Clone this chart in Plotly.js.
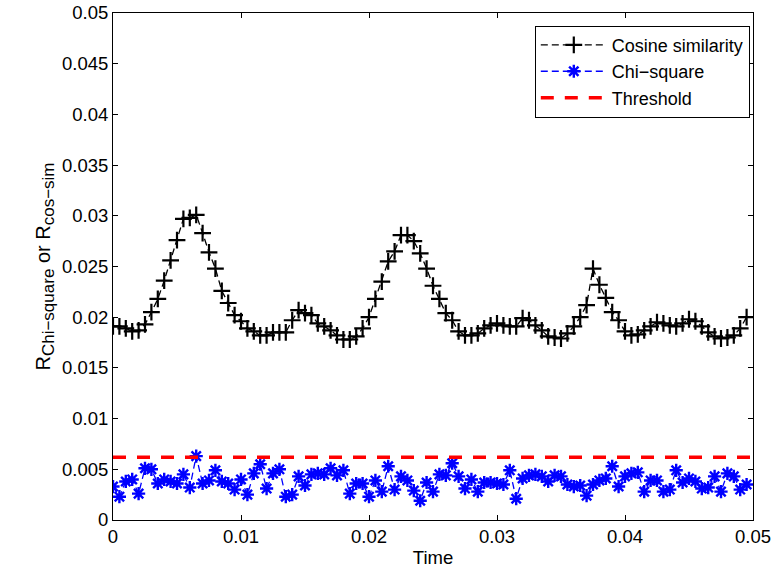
<!DOCTYPE html>
<html>
<head>
<meta charset="utf-8">
<script src="https://cdn.plot.ly/plotly-3.0.1.min.js"></script>
<style>html,body{margin:0;padding:0;background:#fff}#chart{width:782px;height:571px}</style>
</head>
<body>
<div id="chart"></div>
<script>
var time = [0.0000,0.0005,0.0010,0.0015,0.0020,0.0025,0.0030,0.0035,0.0040,0.0045,
0.0050,0.0055,0.0060,0.0065,0.0070,0.0075,0.0080,0.0085,0.0090,0.0095,
0.0100,0.0105,0.0110,0.0115,0.0120,0.0125,0.0130,0.0135,0.0140,0.0145,
0.0150,0.0155,0.0160,0.0165,0.0170,0.0175,0.0180,0.0185,0.0190,0.0195,
0.0200,0.0205,0.0210,0.0215,0.0220,0.0225,0.0230,0.0235,0.0240,0.0245,
0.0250,0.0255,0.0260,0.0265,0.0270,0.0275,0.0280,0.0285,0.0290,0.0295,
0.0300,0.0305,0.0310,0.0315,0.0320,0.0325,0.0330,0.0335,0.0340,0.0345,
0.0350,0.0355,0.0360,0.0365,0.0370,0.0375,0.0380,0.0385,0.0390,0.0395,
0.0400,0.0405,0.0410,0.0415,0.0420,0.0425,0.0430,0.0435,0.0440,0.0445,
0.0450,0.0455,0.0460,0.0465,0.0470,0.0475,0.0480,0.0485,0.0490,0.0495];

var cosineSim = [0.0191,0.0191,0.0189,0.0186,0.0187,0.0193,0.0205,0.0218,0.0236,0.0256,
0.0276,0.0297,0.0298,0.0301,0.0283,0.0264,0.0248,0.0226,0.0214,0.0202,
0.0196,0.0189,0.0186,0.0182,0.0182,0.0185,0.0185,0.0185,0.0197,0.0207,
0.0204,0.0202,0.0194,0.0191,0.0187,0.0182,0.0178,0.0178,0.0181,0.0189,
0.0200,0.0218,0.0235,0.0255,0.0265,0.0281,0.0281,0.0275,0.0263,0.0248,
0.0231,0.0218,0.0204,0.0197,0.0186,0.0182,0.0182,0.0184,0.0189,0.0192,
0.0194,0.0192,0.0191,0.0191,0.0199,0.0197,0.0192,0.0187,0.0181,0.0180,
0.0179,0.0184,0.0191,0.0200,0.0212,0.0248,0.0232,0.0219,0.0205,0.0197,
0.0186,0.0182,0.0183,0.0187,0.0191,0.0195,0.0194,0.0192,0.0191,0.0194,
0.0198,0.0196,0.0191,0.0185,0.0181,0.0179,0.0180,0.0182,0.0189,0.0200];

var chiSquare = [0.0033,0.0023,0.0038,0.0040,0.0026,0.0051,0.0050,0.0036,0.0040,0.0038,
0.0036,0.0045,0.0032,0.0063,0.0036,0.0039,0.0049,0.0038,0.0036,0.0030,
0.0040,0.0025,0.0046,0.0055,0.0031,0.0046,0.0050,0.0023,0.0025,0.0043,
0.0034,0.0045,0.0046,0.0045,0.0051,0.0044,0.0049,0.0026,0.0036,0.0036,
0.0023,0.0039,0.0028,0.0053,0.0030,0.0043,0.0039,0.0029,0.0019,0.0037,
0.0028,0.0045,0.0044,0.0056,0.0043,0.0031,0.0040,0.0028,0.0037,0.0037,
0.0036,0.0035,0.0049,0.0021,0.0041,0.0044,0.0045,0.0043,0.0038,0.0044,
0.0043,0.0035,0.0033,0.0034,0.0024,0.0035,0.0039,0.0041,0.0053,0.0033,
0.0043,0.0046,0.0047,0.0028,0.0039,0.0039,0.0028,0.0030,0.0049,0.0037,
0.0041,0.0038,0.0031,0.0032,0.0043,0.0028,0.0046,0.0043,0.0030,0.0035];

var thresholdX = [0, 0.05];
var thresholdY = [0.0062, 0.0062];

var seriesNames = ['Cosine similarity', 'Chi\u2212square', 'Threshold'];
var xTicks = [0, 0.01, 0.02, 0.03, 0.04, 0.05];
var xTickText = ['0', '0.01', '0.02', '0.03', '0.04', '0.05'];
var yTicks = [0, 0.005, 0.01, 0.015, 0.02, 0.025, 0.03, 0.035, 0.04, 0.045, 0.05];
var yTickText = ['0', '0.005', '0.01', '0.015', '0.02', '0.025', '0.03', '0.035', '0.04', '0.045', '0.05'];

var FONT = 'Liberation Sans, Arial, sans-serif';

var traces = [
  {
    x: time, y: cosineSim, name: seriesNames[0], type: 'scatter', mode: 'lines+markers',
    line: {color: '#000000', width: 1.3, dash: '7px,4px'},
    marker: {symbol: 'cross-thin-open', size: 12, color: '#000000', line: {color: '#000000', width: 2.2}}
  },
  {
    x: time, y: chiSquare, name: seriesNames[1], type: 'scatter', mode: 'lines+markers',
    line: {color: '#0000ff', width: 1.3, dash: '7px,4px'},
    marker: {symbol: 'asterisk-open', size: 11, color: '#0000ff', line: {color: '#0000ff', width: 2.4}}
  },
  {
    x: thresholdX, y: thresholdY, name: seriesNames[2], type: 'scatter', mode: 'lines',
    line: {color: '#ff0000', width: 3.5, dash: '13px,11px'}
  }
];

var axisCommon = {
  showline: true, linecolor: '#000', linewidth: 1, mirror: 'ticks',
  ticks: 'inside', ticklen: 5, tickwidth: 1, tickcolor: '#000',
  showgrid: false, zeroline: false,
  tickfont: {family: FONT, size: 18.5, color: '#000'}
};

var layout = {
  width: 782, height: 571,
  margin: {l: 113, r: 29, t: 13, b: 51},
  paper_bgcolor: '#fff', plot_bgcolor: '#fff',
  font: {family: FONT, color: '#000'},
  showlegend: true,
  legend: {
    x: 0.995, y: 0.975, xanchor: 'right', yanchor: 'top',
    bgcolor: '#fff', bordercolor: '#000', borderwidth: 1,
    font: {family: FONT, size: 18, color: '#000'},
    itemwidth: 66,
    tracegroupgap: 0
  },
  xaxis: Object.assign({}, axisCommon, {
    range: [0, 0.05], tickvals: xTicks, ticktext: xTickText,
    title: {text: 'Time', font: {family: FONT, size: 18.5, color: '#000'}, standoff: 4}
  }),
  yaxis: Object.assign({}, axisCommon, {
    range: [0, 0.05], tickvals: yTicks, ticktext: yTickText,
    title: {text: 'R<sub><span style="font-size:17px">Chi\u2212square</span></sub> or R<sub><span style="font-size:17px">cos\u2212sim</span></sub>', font: {family: FONT, size: 20, color: '#000'}, standoff: 6}
  })
};

Plotly.newPlot('chart', traces, layout, {displayModeBar: false, staticPlot: true});
</script>
</body>
</html>
